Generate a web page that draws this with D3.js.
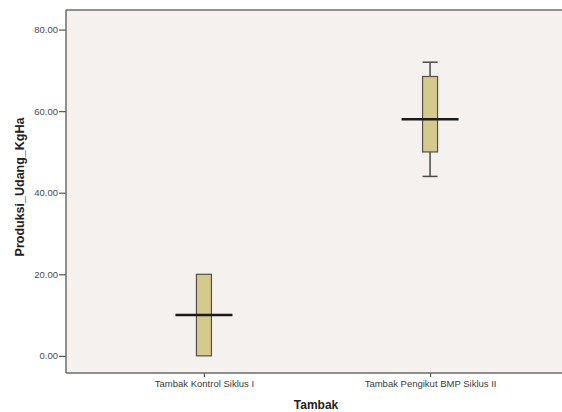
<!DOCTYPE html>
<html>
<head>
<meta charset="utf-8">
<script src="https://cdn.jsdelivr.net/npm/d3@7"></script>
<style>
  html, body { margin: 0; padding: 0; background: #ffffff; }
  svg { display: block; }
</style>
</head>
<body>
<svg id="chart" width="562" height="412"></svg>
<script>
// Groups and their box-plot summaries (Produksi Udang, Kg/Ha)
const categories = ["Tambak Kontrol Siklus I", "Tambak Pengikut BMP Siklus II"];
const whiskerLow = [0, 44];
const q1 = [0, 50];
const medians = [10, 58];
const q3 = [20, 68.5];
const whiskerHigh = [20, 72];
const yTicks = [0, 20, 40, 60, 80];

const svg = d3.select("#chart");
const W = 562, H = 412;
const plot = { left: 66, top: 10, right: 568, bottom: 373 };

const x = d3.scalePoint()
  .domain(categories)
  .range([plot.left, plot.right])
  .padding(0.61);

const y = d3.scaleLinear()
  .domain([-4.2, 84.8])
  .range([plot.bottom, plot.top]);

// plot background
svg.append("rect")
  .attr("x", plot.left).attr("y", plot.top)
  .attr("width", plot.right - plot.left)
  .attr("height", plot.bottom - plot.top)
  .attr("fill", "#f5f1ee");

// frame: top line
svg.append("line")
  .attr("x1", plot.left).attr("x2", W)
  .attr("y1", plot.top).attr("y2", plot.top)
  .attr("stroke", "#6e6a68").attr("stroke-width", 1.5);

// y axis
const yAxis = d3.axisLeft(y)
  .tickValues(yTicks)
  .tickSize(7)
  .tickFormat(d3.format(".2f"));
const gy = svg.append("g")
  .attr("transform", `translate(${plot.left},0)`)
  .call(yAxis);
gy.select(".domain").remove();
gy.selectAll(".tick line").attr("stroke", "#555").attr("stroke-width", 1.2);
gy.selectAll(".tick text")
  .attr("fill", "#4a4a4a")
  .style("font-family", "'Liberation Sans', Arial, sans-serif")
  .style("font-size", "9.5px")
  .attr("x", -8);
svg.append("line")
  .attr("x1", plot.left).attr("x2", plot.left)
  .attr("y1", plot.top).attr("y2", plot.bottom)
  .attr("stroke", "#6e6a68").attr("stroke-width", 1.5);

// x axis
const xAxis = d3.axisBottom(x).tickSize(4).tickSizeOuter(0);
const gx = svg.append("g")
  .attr("transform", `translate(0,${plot.bottom})`)
  .call(xAxis);
gx.select(".domain").remove();
gx.selectAll(".tick line").attr("stroke", "#555").attr("stroke-width", 1.2);
gx.selectAll(".tick text")
  .attr("fill", "#3a3a3a")
  .attr("y", 7)
  .style("font-family", "'Liberation Sans', Arial, sans-serif")
  .style("font-size", "9.5px");
svg.append("line")
  .attr("x1", plot.left).attr("x2", W)
  .attr("y1", plot.bottom).attr("y2", plot.bottom)
  .attr("stroke", "#6e6a68").attr("stroke-width", 1.5);

// boxes
const boxW = 15, capW = 15, medW = 57;
const groups = svg.append("g").selectAll("g")
  .data(categories.map((c, i) => ({
    c, lo: whiskerLow[i], q1: q1[i], med: medians[i], q3: q3[i], hi: whiskerHigh[i]
  })))
  .join("g");

// whiskers (only drawn where they extend past the box)
groups.filter(d => d.hi > d.q3).call(g => {
  g.append("line")
    .attr("x1", d => x(d.c)).attr("x2", d => x(d.c))
    .attr("y1", d => y(d.hi)).attr("y2", d => y(d.q3))
    .attr("stroke", "#4a4a4a").attr("stroke-width", 1.5);
  g.append("line")
    .attr("x1", d => x(d.c) - capW / 2).attr("x2", d => x(d.c) + capW / 2)
    .attr("y1", d => y(d.hi)).attr("y2", d => y(d.hi))
    .attr("stroke", "#4a4a4a").attr("stroke-width", 1.5);
});
groups.filter(d => d.lo < d.q1).call(g => {
  g.append("line")
    .attr("x1", d => x(d.c)).attr("x2", d => x(d.c))
    .attr("y1", d => y(d.lo)).attr("y2", d => y(d.q1))
    .attr("stroke", "#4a4a4a").attr("stroke-width", 1.5);
  g.append("line")
    .attr("x1", d => x(d.c) - capW / 2).attr("x2", d => x(d.c) + capW / 2)
    .attr("y1", d => y(d.lo)).attr("y2", d => y(d.lo))
    .attr("stroke", "#4a4a4a").attr("stroke-width", 1.5);
});

groups.append("rect")
  .attr("x", d => x(d.c) - boxW / 2)
  .attr("y", d => y(d.q3))
  .attr("width", boxW)
  .attr("height", d => y(d.q1) - y(d.q3))
  .attr("fill", "#d4ca8e")
  .attr("stroke", "#555048")
  .attr("stroke-width", 1.2);

groups.append("line")
  .attr("x1", d => x(d.c) - medW / 2).attr("x2", d => x(d.c) + medW / 2)
  .attr("y1", d => y(d.med)).attr("y2", d => y(d.med))
  .attr("stroke", "#1a1a1a").attr("stroke-width", 2.5);

// axis titles
svg.append("text")
  .attr("x", 316).attr("y", 409)
  .attr("text-anchor", "middle")
  .style("font-family", "'Liberation Sans', Arial, sans-serif")
  .style("font-weight", "bold")
  .style("font-size", "12px")
  .attr("fill", "#222")
  .text("Tambak");

svg.append("text")
  .attr("transform", "translate(24,187) rotate(-90)")
  .attr("text-anchor", "middle")
  .style("font-family", "'Liberation Sans', Arial, sans-serif")
  .style("font-weight", "bold")
  .style("font-size", "12.5px")
  .attr("fill", "#222")
  .text("Produksi_Udang_KgHa");
</script>
</body>
</html>
